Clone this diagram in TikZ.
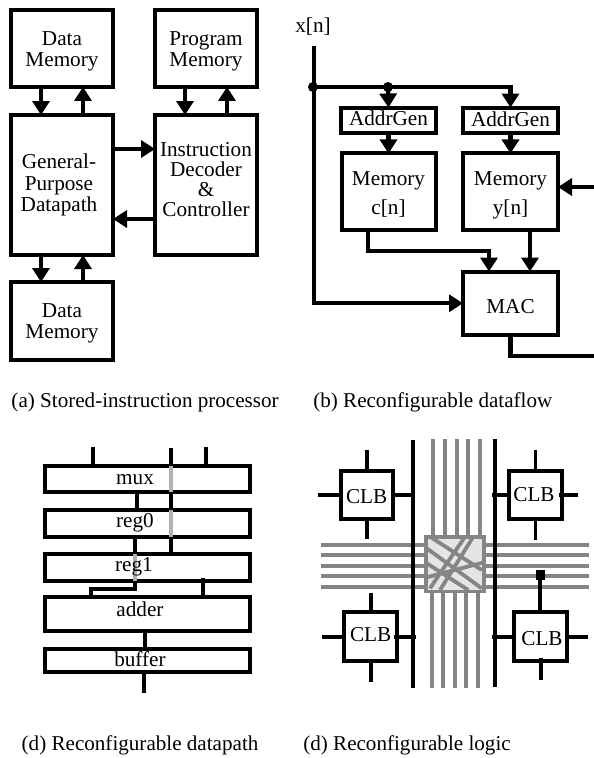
\documentclass[tikz,border=0pt]{standalone}
\usepackage{fontspec}
\setmainfont{Liberation Serif}
\usetikzlibrary{arrows.meta}
\tikzset{
  blk/.style={draw=black,line width=4pt,fill=white,inner sep=0pt,outer sep=0pt},
  lbl/.style={inner sep=0pt,outer sep=0pt,align=center,anchor=base,font=\fontsize{21.2}{21}\selectfont},
  captxt/.style={inner sep=0pt,outer sep=0pt,anchor=base west,font=\fontsize{21.1}{24}\selectfont},
  wire/.style={draw=black,line width=3.8pt,line cap=butt,line join=miter},
  arr/.style={draw=black,line width=4.3pt,line join=miter,-{Triangle[length=14pt,width=17pt]}},
  gwire/.style={draw=black!48,line width=3.8pt},
  lgwire/.style={draw=black!30,line width=3.9pt},
  dotnode/.style={circle,fill=black,inner sep=0pt,minimum size=10pt},
  sq/.style={rectangle,fill=black,inner sep=0pt,minimum size=9.5pt}
}
\begin{document}
\begin{tikzpicture}[x=1pt,y=-1pt]
\useasboundingbox (0,0) rectangle (594,758);
% ---------- (a)
\node[blk,minimum width=102pt,minimum height=76.5pt] (dm1) at (62,48.7) {};
\node[blk,minimum width=102pt,minimum height=76.5pt] (pm) at (206,48.7) {};
\node[blk,minimum width=102pt,minimum height=140pt] (gp) at (62,185) {};
\node[blk,minimum width=102pt,minimum height=140pt] (id) at (206,185) {};
\node[blk,minimum width=102pt,minimum height=78pt] (dm2) at (62,321) {};
\node[lbl] (tdm1) at (62,66) {Data\\Memory};
\node[lbl] (tpm) at (206,66) {Program\\Memory};
\node[lbl,font=\fontsize{21.2}{21.7}\selectfont] (tgp) at (59,211.7) {General-\\Purpose\\Datapath};
\node[lbl,font=\fontsize{21.2}{20.2}\selectfont] (tid) at (206,216.7) {Instruction\\Decoder\\\&\\Controller};
\node[lbl] (tdm2) at (62,338.3) {Data\\Memory};
\draw[arr] (41,0 |- dm1.south) -- (41,0 |- gp.north);
\draw[arr] (83,0 |- gp.north) -- (83,0 |- dm1.south);
\draw[arr] (185,0 |- pm.south) -- (185,0 |- id.north);
\draw[arr] (227,0 |- id.north) -- (227,0 |- pm.south);
\draw[arr] (gp.east |- 0,149) -- (id.west |- 0,149);
\draw[arr] (id.west |- 0,219) -- (gp.east |- 0,219);
\draw[arr] (41,0 |- gp.south) -- (41,0 |- dm2.north);
\draw[arr] (83,0 |- dm2.north) -- (83,0 |- gp.south);
\node[captxt] (capa) at (11.5,407.3) {(a) Stored-instruction processor};
% ---------- (b)
\node[lbl] (xn) at (313,32.7) {x[n]};
\node[blk,minimum width=95pt,minimum height=25.5pt] (ag1) at (388.5,120.3) {};
\node[blk,minimum width=95pt,minimum height=25.5pt] (ag2) at (510.5,120.3) {};
\node[blk,minimum width=94pt,minimum height=76.5pt] (mc) at (388.5,191.7) {};
\node[blk,minimum width=95pt,minimum height=76.5pt] (my) at (510.5,191.7) {};
\node[blk,minimum width=95pt,minimum height=63.5pt] (mac) at (510.5,303.3) {};
\node[lbl] (tag1) at (388.5,125) {AddrGen};
\node[lbl] (tag2) at (510.5,126) {AddrGen};
\node[lbl,font=\fontsize{21.2}{28.3}\selectfont] (tmc) at (388.5,214) {Memory\\c[n]};
\node[lbl,font=\fontsize{21.2}{28.3}\selectfont] (tmy) at (510.5,214) {Memory\\y[n]};
\node[lbl] (tmac) at (510.5,313.3) {MAC};
\coordinate (xtop) at (314,46);
\coordinate (fbin) at (594,187);
\coordinate (fbout) at (594,355.7);
\node[dotnode] (j1) at (313,87) {};
\node[dotnode] (j2) at (388,87) {};
\draw[arr] (xtop) -- (314,0 |- mac.west) -- (mac.west);
\draw[arr] (j1.center) -- (510.5,87) -- (ag2.north);
\draw[arr] (j2.center) -- (ag1.north);
\draw[arr] (ag1.south) -- (mc.north);
\draw[arr] (ag2.south) -- (my.north);
\draw[arr] (368,0 |- mc.south) -- (368,250.7) -- (489,250.7) -- (489,0 |- mac.north);
\draw[arr] (530,0 |- my.south) -- (530,0 |- mac.north);
\draw[arr] (fbin) -- (my.east |- fbin);
\draw[arr,-] (510.5,0 |- mac.south) -- (510.5,355.7) -- (fbout);
\node[captxt] (capb) at (313.3,407.3) {(b) Reconfigurable dataflow};
% ---------- datapath
\node[blk,minimum width=205pt,minimum height=26pt] (mux) at (147.5,479) {};
\node[blk,minimum width=205pt,minimum height=27pt] (reg0) at (147.5,523.5) {};
\node[blk,minimum width=205pt,minimum height=27pt] (reg1) at (147.5,567.5) {};
\node[blk,minimum width=205pt,minimum height=33.5pt] (add) at (147.5,614.2) {};
\node[blk,minimum width=205pt,minimum height=22.5pt] (buf) at (147.5,660.7) {};
\draw[wire] (92.7,447) -- (92.7,0 |- mux.north);
\draw[wire] (205.7,447) -- (205.7,0 |- mux.north);
\draw[wire] (170.7,448) -- (170.7,0 |- reg1.north);
\draw[lgwire] (170.7,0 |- mux.north) -- (170.7,0 |- mux.south);
\draw[lgwire] (170.7,0 |- reg0.north) -- (170.7,0 |- reg0.south);
\draw[wire] (136.7,0 |- mux.south) -- (136.7,0 |- reg0.north);
\draw[wire] (135,0 |- reg0.south) -- (135,0 |- reg1.north);
\draw[wire] (135,582) -- (135,588.7) -- (91,588.7) -- (91,0 |- add.north);
\draw[lgwire] (135,0 |- reg1.north) -- (135,0 |- reg1.south);
\draw[wire] (202.7,578) -- (202.7,0 |- add.north);
\draw[wire] (145.3,629) -- (145.3,0 |- buf.north);
\draw[wire] (144,0 |- buf.south) -- (144,692.7);
\node[lbl] (tmux) at (135,484) {mux};
\node[lbl] (treg0) at (135,527.3) {reg0};
\node[lbl] (treg1) at (134,571.7) {reg1};
\node[lbl] (tadd) at (140,616.7) {adder};
\node[lbl] (tbuf) at (140,666) {buffer};
\node[captxt] (capc) at (21.7,750.7) {(d) Reconfigurable datapath};
% ---------- logic
\foreach \x in {433.3,445,456.7,468,479.7} \draw[gwire] (\x,439) -- (\x,537);
\foreach \x in {432,443.3,455,466.3,478} \draw[gwire] (\x,591) -- (\x,688);
\foreach \y in {544.7,555,565.7,576.3,586.7} \draw[gwire] (321,\y) -- (589,\y);
\node[draw=black!48,line width=3.8pt,fill=black!10,inner sep=0pt,outer sep=0pt,minimum width=58pt,minimum height=54.5pt] (xbar) at (455,564.2) {};
\begin{scope}
\clip (426,537) rectangle (484,591.5);
\draw[gwire] (430,536.7) -- (481.7,570);
\draw[gwire] (426.7,548.3) -- (481.7,588.3);
\draw[gwire] (473.3,536.7) -- (440,590);
\draw[gwire] (465,536.7) -- (430,588.3);
\draw[gwire] (426.7,577.3) -- (482.7,562.7);
\draw[gwire] (426.7,563.3) -- (468.3,590);
\end{scope}
\draw[wire] (412.7,440) -- (412.7,688);
\draw[wire] (495,439) -- (495,687);
\node[blk,minimum width=52pt,minimum height=48.5pt] (clb1) at (366.7,495.2) {};
\node[blk,minimum width=53pt,minimum height=48.5pt] (clb2) at (535.5,495.2) {};
\node[blk,minimum width=52.5pt,minimum height=48.5pt] (clb3) at (370.7,636.7) {};
\node[blk,minimum width=52.5pt,minimum height=48.5pt] (clb4) at (540.7,636.7) {};
\node[lbl] (t1) at (366.7,503.3) {CLB};
\node[lbl] (t2) at (534,501.7) {CLB};
\node[lbl] (t3) at (370.7,641.7) {CLB};
\node[lbl] (t4) at (542,645) {CLB};
\draw[wire] (clb1.north) -- ++(0,-21);
\draw[wire] (clb1.south) -- ++(0,20);
\draw[wire] (clb1.west) -- ++(-22.4,0);
\draw[wire] (clb1.east) -- (412.7,0 |- clb1.east);
\draw[wire] (clb2.north) -- ++(0,-21);
\draw[wire] (clb2.south) -- ++(0,20.5);
\draw[wire] (clb2.west) -- ++(-17.3,0);
\draw[wire] (558.5,0 |- clb2.east) -- (578,0 |- clb2.east);
\draw[wire] (clb3.north) -- ++(0,-19);
\draw[wire] (clb3.south) -- ++(0,21.5);
\draw[wire] (clb3.west) -- ++(-22.5,0);
\draw[wire] (394,0 |- clb3.east) -- (416,0 |- clb3.east);
\node[sq] (tap) at (540.3,575) {};
\draw[wire] (tap.center) -- (tap.center |- clb4.north);
\draw[wire] (clb4.south) ++(0,-3) -- ++(0,22);
\draw[wire] (clb4.west) -- ++(-22.8,0);
\draw[wire] (clb4.east) -- ++(21.3,0);
\node[captxt] (capd) at (303.3,750.7) {(d) Reconfigurable logic};
\end{tikzpicture}
\end{document}
